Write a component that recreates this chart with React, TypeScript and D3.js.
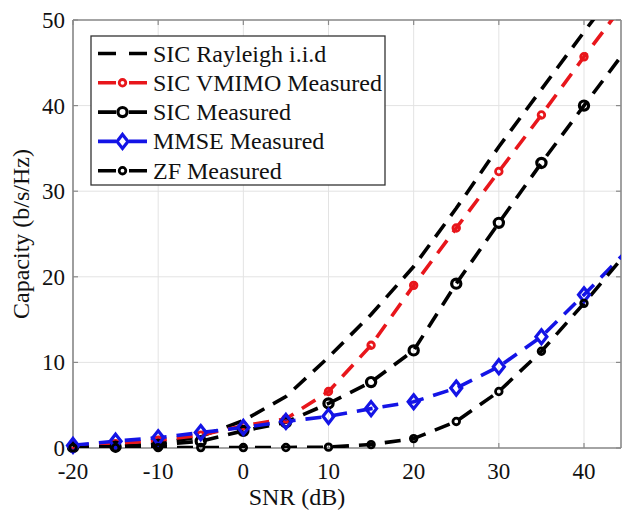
import React from "react";
import * as d3 from "d3";

const snr = [-20, -15, -10, -5, 0, 5, 10, 15, 20, 25, 30, 35, 40, 45];
const sicRayleigh = [0.06, 0.17, 0.5, 1.35, 3.2, 6.0, 10.6, 15.6, 21.2, 28.0, 35.2, 41.9, 48.6, 55.2];
const sicVmimo = [0.3, 0.5, 0.9, 1.5, 2.6, 3.4, 6.6, 12.0, 19.0, 25.7, 32.3, 38.9, 45.7, 52.3];
const sicMeasured = [0.1, 0.15, 0.35, 0.8, 2.0, 3.0, 5.2, 7.7, 11.4, 19.2, 26.3, 33.3, 40.0, 46.6];
const mmse = [0.3, 0.8, 1.2, 1.8, 2.4, 3.1, 3.7, 4.6, 5.4, 7.0, 9.5, 13.0, 17.9, 23.0];
const zf = [0.02, 0.03, 0.04, 0.05, 0.05, 0.06, 0.1, 0.4, 1.1, 3.1, 6.6, 11.3, 16.9, 22.8];

const xTicks = [-20, -10, 0, 10, 20, 30, 40];
const yTicks = [0, 10, 20, 30, 40, 50];
const seriesNames = ["SIC Rayleigh i.i.d", "SIC VMIMO Measured", "SIC Measured", "MMSE Measured", "ZF Measured"];

type Marker = "none" | "smallCircle" | "circle" | "diamond";
const seriesDefs: { name: string; values: number[]; color: string; marker: Marker }[] = [
  { name: seriesNames[0], values: sicRayleigh, color: "#000000", marker: "none" },
  { name: seriesNames[1], values: sicVmimo, color: "#e8161b", marker: "smallCircle" },
  { name: seriesNames[2], values: sicMeasured, color: "#000000", marker: "circle" },
  { name: seriesNames[3], values: mmse, color: "#1414e6", marker: "diamond" },
  { name: seriesNames[4], values: zf, color: "#000000", marker: "smallCircle" },
];

const W = 622;
const H = 518;
const left = 73;
const right = 621;
const top = 20;
const bottom = 448;
const FONT = "'Liberation Serif', 'Times New Roman', serif";

const x = d3.scaleLinear().domain([-20, 40]).range([left, 584]);
const y = d3.scaleLinear().domain([0, 50]).range([bottom, top]);
const xMax = x.invert(right);

function MarkerShape({ kind, cx, cy, color }: { kind: Marker; cx: number; cy: number; color: string }) {
  if (kind === "none") return null;
  if (kind === "smallCircle")
    return <circle cx={cx} cy={cy} r={3.3} fill="none" stroke={color} strokeWidth={2.8} />;
  if (kind === "circle")
    return <circle cx={cx} cy={cy} r={4.6} fill="none" stroke={color} strokeWidth={3.2} />;
  const dx = 5.5;
  const dy = 7;
  return (
    <path
      d={`M${cx},${cy - dy}L${cx + dx},${cy}L${cx},${cy + dy}L${cx - dx},${cy}Z`}
      fill="none"
      stroke={color}
      strokeWidth={3.2}
    />
  );
}

export default function App() {
  const line = d3
    .line<[number, number]>()
    .x((d) => x(d[0]))
    .y((d) => y(d[1]));

  const legendX = 91;
  const legendY = 36;
  const legendW = 294;
  const legendH = 149;
  const rowY = (i: number) => 53.5 + i * 29.3;

  return (
    <svg
      width={W}
      height={H}
      style={{ position: "absolute", left: 0, top: 0, background: "#fff" }}
      fontFamily={FONT}
    >
      <defs>
        <clipPath id="plotClip">
          <rect x={left} y={top} width={right - left} height={bottom - top} />
        </clipPath>
      </defs>
      <rect x={0} y={0} width={W} height={H} fill="#fff" />
      {/* grid */}
      {xTicks.map((t) => (
        <line key={"gx" + t} x1={x(t)} x2={x(t)} y1={top} y2={bottom} stroke="#e3e3e3" strokeWidth={1} />
      ))}
      {yTicks.map((t) => (
        <line key={"gy" + t} x1={left} x2={right} y1={y(t)} y2={y(t)} stroke="#e3e3e3" strokeWidth={1} />
      ))}
      {/* axes box */}
      <line x1={left} x2={right} y1={top} y2={top} stroke="#8a8a8a" strokeWidth={1.6} />
      <line x1={left} x2={right} y1={bottom} y2={bottom} stroke="#8a8a8a" strokeWidth={1.6} />
      <line x1={left} x2={left} y1={top} y2={bottom} stroke="#8a8a8a" strokeWidth={1.6} />
      <line x1={right} x2={right} y1={top} y2={bottom} stroke="#8a8a8a" strokeWidth={1.6} />
      {xTicks.map((t) => (
        <g key={"tx" + t}>
          <line x1={x(t)} x2={x(t)} y1={bottom} y2={bottom - 5} stroke="#8a8a8a" strokeWidth={1.2} />
          <line x1={x(t)} x2={x(t)} y1={top} y2={top + 5} stroke="#8a8a8a" strokeWidth={1.2} />
        </g>
      ))}
      {yTicks.map((t) => (
        <g key={"ty" + t}>
          <line x1={left} x2={left + 5} y1={y(t)} y2={y(t)} stroke="#8a8a8a" strokeWidth={1.2} />
          <line x1={right} x2={right - 5} y1={y(t)} y2={y(t)} stroke="#8a8a8a" strokeWidth={1.2} />
        </g>
      ))}
      {/* tick labels */}
      {xTicks.map((t) => (
        <text key={"lx" + t} x={x(t)} y={479} textAnchor="middle" fontSize={23} fill="#111">
          {t}
        </text>
      ))}
      {yTicks.map((t) => (
        <text key={"ly" + t} x={65} y={y(t) + 8} textAnchor="end" fontSize={23} fill="#111">
          {t}
        </text>
      ))}
      <text x={(left + 521) / 2} y={505} textAnchor="middle" fontSize={24} fill="#111">
        SNR (dB)
      </text>
      <text
        transform={`translate(29, ${(top + bottom) / 2}) rotate(-90)`}
        textAnchor="middle"
        fontSize={24}
        fill="#111"
      >
        Capacity (b/s/Hz)
      </text>
      {/* series lines */}
      <g clipPath="url(#plotClip)">
        {seriesDefs.map((s) => (
          <path
            key={"l" + s.name}
            d={line(snr.map((v, i) => [v, s.values[i]] as [number, number])) || ""}
            fill="none"
            stroke={s.color}
            strokeWidth={3.6}
            strokeDasharray="16 10"
          />
        ))}
      </g>
      {/* markers */}
      {seriesDefs.map((s) =>
        snr.map((v, i) =>
          v <= xMax ? (
            <MarkerShape key={s.name + v} kind={s.marker} cx={x(v)} cy={y(s.values[i])} color={s.color} />
          ) : null
        )
      )}
      {/* legend */}
      <rect x={legendX} y={legendY} width={legendW} height={legendH} fill="#fff" stroke="#333" strokeWidth={1.3} />
      {seriesDefs.map((s, i) => (
        <g key={"lg" + s.name}>
          <line
            x1={98}
            x2={147}
            y1={rowY(i)}
            y2={rowY(i)}
            stroke={s.color}
            strokeWidth={3.6}
            strokeDasharray="18 13"
          />
          <MarkerShape kind={s.marker} cx={122.5} cy={rowY(i)} color={s.color} />
          <text x={153} y={rowY(i) + 8} fontSize={24} fill="#111">
            {s.name}
          </text>
        </g>
      ))}
    </svg>
  );
}
